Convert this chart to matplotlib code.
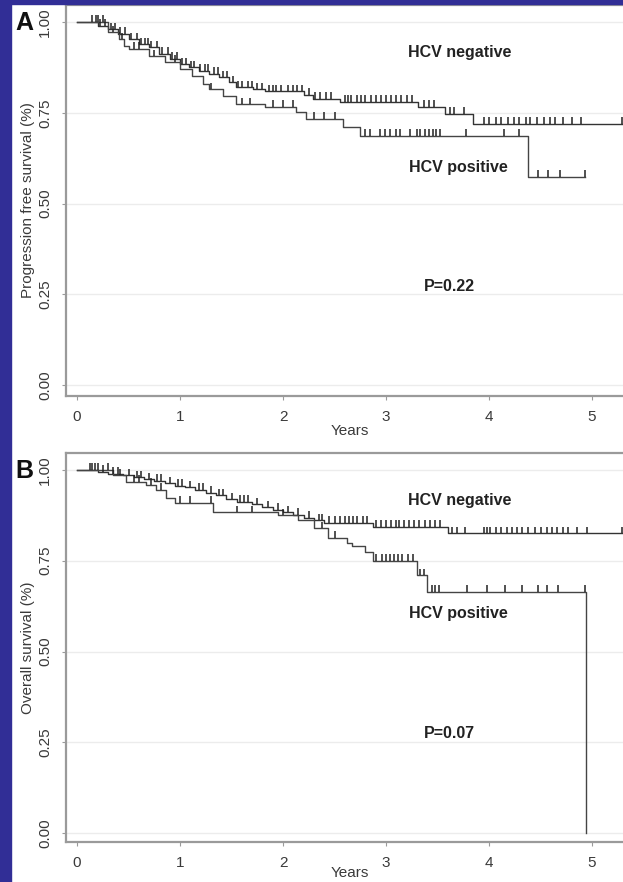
import matplotlib
matplotlib.use("Agg")

import numpy as np
import matplotlib.pyplot as plt
from matplotlib.patches import Rectangle

plt.rcParams["font.family"] = ["Liberation Sans", "DejaVu Sans"]

# ---------------------------------------------------------
# data
# ---------------------------------------------------------
# A: progression free survival
negA_t = [0, 0.2, 0.3, 0.4, 0.5, 0.6, 0.7, 0.8, 0.9, 1.0, 1.09, 1.18, 1.28, 1.38,
          1.48, 1.54, 1.71, 1.83, 2.2, 2.29, 2.55, 3.31, 3.57, 3.84]
negA_s = [1.0, 0.99, 0.98, 0.967, 0.953, 0.939, 0.93, 0.912, 0.898, 0.884, 0.875,
          0.866, 0.857, 0.848, 0.834, 0.82, 0.815, 0.809, 0.80, 0.788, 0.78, 0.766,
          0.747, 0.72]
negA_end = 5.45
negA_cens = [0.18, 0.22, 0.27, 0.33, 0.37, 0.42, 0.47, 0.52, 0.58, 0.62, 0.66, 0.69,
             0.72, 0.78, 0.83, 0.88, 0.92, 0.97, 1.02, 1.06, 1.11, 1.14, 1.19, 1.24,
             1.27, 1.33, 1.37, 1.42, 1.46, 1.51, 1.56, 1.6, 1.66, 1.7, 1.75, 1.8,
             1.86, 1.9, 1.93, 1.98, 2.05, 2.1, 2.14, 2.18, 2.25, 2.31, 2.36, 2.42,
             2.47, 2.6, 2.63, 2.66, 2.72, 2.76, 2.8, 2.85, 2.9, 2.95, 3.0, 3.05, 3.1,
             3.15, 3.2, 3.25, 3.37, 3.42, 3.47, 3.62, 3.66, 3.76, 3.95, 4.0, 4.07,
             4.12, 4.18, 4.24, 4.29, 4.36, 4.4, 4.47, 4.53, 4.59, 4.64, 4.72, 4.81,
             4.89, 5.29]

posA_t = [0, 0.3, 0.41, 0.46, 0.5, 0.7, 0.85, 1.0, 1.12, 1.22, 1.28, 1.42, 1.54,
          1.83, 2.13, 2.22, 2.58, 2.75, 4.38]
posA_s = [1.0, 0.972, 0.953, 0.935, 0.926, 0.905, 0.89, 0.87, 0.85, 0.829, 0.815,
          0.797, 0.774, 0.766, 0.752, 0.733, 0.71, 0.686, 0.573]
posA_end = 4.93
posA_cens = [0.15, 0.2, 0.25, 0.35, 0.44, 0.55, 0.6, 0.75, 0.95, 1.3, 1.6, 1.68,
             1.9, 2.0, 2.1, 2.3, 2.4, 2.5, 2.8, 2.84, 2.94, 2.99, 3.04, 3.10, 3.14,
             3.23, 3.30, 3.33, 3.38, 3.42, 3.46, 3.49, 3.52, 3.78, 4.15, 4.29, 4.48,
             4.57, 4.69, 4.93]

# B: overall survival
negB_t = [0, 0.2, 0.3, 0.45, 0.55, 0.65, 0.75, 0.85, 0.95, 1.05, 1.15, 1.25, 1.35,
          1.45, 1.55, 1.7, 1.8, 1.9, 2.0, 2.1, 2.2, 2.3, 2.4, 2.87, 3.6]
negB_s = [1.0, 0.995, 0.99, 0.985, 0.98, 0.975, 0.97, 0.963, 0.957, 0.952, 0.946,
          0.938, 0.93, 0.92, 0.912, 0.905, 0.897, 0.89, 0.883, 0.876, 0.869, 0.862,
          0.854, 0.843, 0.826]
negB_end = 5.45
negB_cens = [0.13, 0.17, 0.25, 0.35, 0.4, 0.5, 0.58, 0.62, 0.7, 0.78, 0.82, 0.9,
             0.98, 1.02, 1.1, 1.18, 1.22, 1.3, 1.38, 1.42, 1.5, 1.58, 1.62, 1.66,
             1.75, 1.85, 1.95, 2.05, 2.15, 2.25, 2.35, 2.38, 2.45, 2.5, 2.55, 2.6,
             2.64, 2.68, 2.72, 2.78, 2.82, 2.9, 2.95, 3.0, 3.05, 3.1, 3.13, 3.17,
             3.22, 3.27, 3.32, 3.38, 3.43, 3.48, 3.52, 3.64, 3.69, 3.77, 3.95, 3.98,
             4.01, 4.07, 4.12, 4.17, 4.22, 4.27, 4.32, 4.38, 4.45, 4.5, 4.56, 4.61,
             4.66, 4.72, 4.77, 4.85, 4.95, 5.29]

posB_t = [0, 0.35, 0.48, 0.67, 0.77, 0.86, 0.95, 1.32, 1.95, 2.15, 2.3, 2.44, 2.62,
          2.67, 2.8, 2.87, 3.3, 3.4, 4.94]
posB_s = [1.0, 0.986, 0.968, 0.959, 0.945, 0.922, 0.909, 0.884, 0.875, 0.862, 0.84,
          0.813, 0.80, 0.79, 0.774, 0.75, 0.71, 0.664, 0.0]
posB_end = 4.94
posB_cens = [0.15, 0.2, 0.3, 0.42, 0.55, 0.6, 0.72, 0.82, 1.0, 1.1, 1.3, 1.55, 1.7,
             2.0, 2.38, 2.5, 2.9, 2.96, 3.0, 3.04, 3.08, 3.12, 3.16, 3.21, 3.26,
             3.33, 3.37, 3.45, 3.48, 3.51, 3.79, 3.98, 4.16, 4.32, 4.48, 4.56, 4.67,
             4.93]

yticks = [0.0, 0.25, 0.5, 0.75, 1.0]
yticklabels = ["0.00", "0.25", "0.50", "0.75", "1.00"]
xticks = [0, 1, 2, 3, 4, 5]

W, H = 623, 882
BLUE = "#312E96"
SPINE = "#9a9a9a"
INK = "#3a3a3a"

fig = plt.figure(figsize=(W / 100, H / 100), dpi=100)
fig.patch.set_facecolor("white")
fig.patches.append(Rectangle((0, 0), 11 / W, 1, transform=fig.transFigure,
                             color=BLUE, zorder=10))
fig.patches.append(Rectangle((0, 1 - 4 / H), 1, 4 / H, transform=fig.transFigure,
                             color=BLUE, zorder=10))


def km(ax, t, s, end, cens, color="#333333"):
    tt = list(t) + [end]
    ss = list(s) + [s[-1]]
    ax.step(tt, ss, where="post", color=color, lw=1.0, zorder=3)
    c = np.asarray(cens)
    idx = np.searchsorted(np.asarray(t), c, side="right") - 1
    sv = np.asarray(s)[idx]
    ax.vlines(c, sv, sv + 0.018, color="#222222", lw=1.1, zorder=4)


def frame(ax, top_px, bot_px, ylab, letter):
    # axes in pixels: left 66, right past the image edge
    left, right = 66, 640
    ax.set_position([left / W, 1 - bot_px / H, (right - left) / W, (bot_px - top_px) / H])
    ax.set_xlim((left - 77) / 103, (right - 77) / 103)
    y1 = top_px + 17  # pixel of 1.00
    y0 = y1 + 363     # pixel of 0.00
    ax.set_ylim((y0 - bot_px) / 363, (y0 - top_px) / 363)
    ax.set_yticks(yticks)
    ax.set_yticklabels(yticklabels, rotation=90, va="center")
    ax.set_xticks(xticks)
    ax.grid(axis="y", color="#ececec", lw=1.0)
    ax.set_axisbelow(True)
    for side in ("left", "bottom", "top"):
        ax.spines[side].set_color(SPINE)
        ax.spines[side].set_linewidth(1.6)
    ax.spines["right"].set_visible(False)
    ax.tick_params(axis="both", colors=SPINE, labelcolor=INK, labelsize=11,
                   length=3, width=0.8)
    ax.tick_params(axis="y", pad=7)
    ax.tick_params(axis="x", pad=7)
    ax.set_ylabel(ylab, fontsize=11, color=INK)
    ax.yaxis.set_label_coords((35 - 66) / (640 - 66), 0.5)
    fig.text(24 / W, 1 - (top_px + 18) / H, letter, fontsize=18, fontweight="bold",
             ha="center", va="center", color="#111111")


# ---- panel A ----
axA = fig.add_axes([0, 0, 1, 1])
frame(axA, 5, 396, "Progression free survival (%)", "A")
km(axA, negA_t, negA_s, negA_end, negA_cens)
km(axA, posA_t, posA_s, posA_end, posA_cens, color="#444444")
axA.text(3.72, 0.917, "HCV negative", fontsize=11.5, fontweight="bold", ha="center", va="center", color="#222")
axA.text(3.70, 0.60, "HCV positive", fontsize=11.5, fontweight="bold", ha="center", va="center", color="#222")
axA.text(3.62, 0.27, "P=0.22", fontsize=11.5, fontweight="bold", ha="center", va="center", color="#222")
fig.text(350 / W, 1 - 431 / H, "Years", fontsize=11, ha="center", va="center", color=INK)

# ---- panel B ----
axB = fig.add_axes([0, 0, 1, 1])
frame(axB, 453, 842, "Overall survival (%)", "B")
km(axB, negB_t, negB_s, negB_end, negB_cens)
km(axB, posB_t, posB_s, posB_end, posB_cens, color="#444444")
axB.text(3.72, 0.917, "HCV negative", fontsize=11.5, fontweight="bold", ha="center", va="center", color="#222")
axB.text(3.70, 0.606, "HCV positive", fontsize=11.5, fontweight="bold", ha="center", va="center", color="#222")
axB.text(3.62, 0.273, "P=0.07", fontsize=11.5, fontweight="bold", ha="center", va="center", color="#222")
fig.text(350 / W, 1 - 873 / H, "Years", fontsize=11, ha="center", va="center", color=INK)

fig.savefig("out.png", dpi=100)
